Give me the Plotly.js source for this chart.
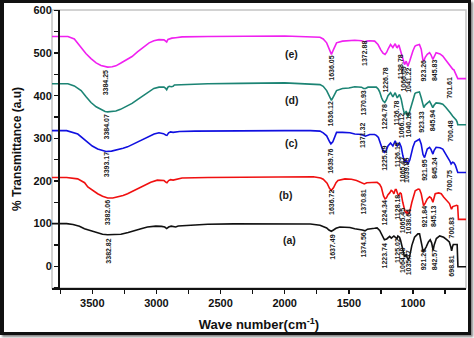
<!DOCTYPE html>
<html><head><meta charset="utf-8">
<script src="https://cdn.plot.ly/plotly-3.0.1.min.js"></script>
<style>
html,body{margin:0;padding:0;background:#fff;}
#wrap{position:relative;width:474px;height:338px;overflow:hidden;}
#chart{position:absolute;left:0;top:0;width:474px;height:338px;}
#frame{position:absolute;left:0;top:0;width:471px;height:335px;box-sizing:border-box;border:3px solid #111;border-left-width:4px;box-shadow:2px 2px 2px #888;pointer-events:none;}
</style></head>
<body><div id="wrap"><div id="chart"></div><div id="frame"></div></div>
<script>
// (a) black
const waveA = [3814,3700,3650,3600,3561,3500,3458,3420,3380,3320,3277,3220,3173,3120,3070,3005,2960,2935,2920,2905,2885,2870,2850,2830,2757,2600,2400,2000,1800,1725,1673,1655,1637,1620,1600,1570,1492,1454,1415,1395,1374,1355,1300,1280,1260,1240,1223,1205,1195,1182,1169,1149,1131,1125,1118,1105,1097,1079,1066,1060,1053,1045,1036,1027,1009,988,962,949,936,928,921,910,898,880,866,855,843,835,818,792,761,735,717,705,699,693,686,670,656,650,587];
const transA = [100,100,98,94,88,82,78,75,74,74.5,75,79,84,88,92,94,93.5,92,88.5,92,94,93,92,94.5,96,98.5,99.5,100,99,96,90,85,82,85,89,92,91,88,87,85,83,87,89,90,84,70,62,64,66,70,66,71,66,65,71,68,61,37,22,24,28,20,14,22,49,68,76,76,61,45,33,38,45,57,62,55,37,50,65,71,68,62,57,45,36,45,51,51,51,-1,-1];
// (b) red
const waveB = [3814,3700,3614,3560,3535,3500,3458,3420,3380,3340,3303,3260,3225,3170,3122,3080,3044,2993,2960,2941,2925,2918,2905,2890,2870,2847,2800,2600,2300,2000,1777,1720,1700,1670,1650,1636,1620,1600,1585,1530,1480,1440,1400,1380,1360,1320,1280,1260,1247,1230,1218,1208,1195,1182,1170,1160,1149,1138,1131,1120,1113,1100,1092,1080,1071,1062,1053,1045,1038,1027,1009,995,983,960,949,936,925,918,905,889,871,858,845,835,827,800,780,760,741,716,705,700,690,676,660,652,646,587];
const transB = [208,208,205,196,186,178,170,164,160,160,162,166,170,178,185,192,197,202,202,201,197,196,201,203,202,204,207,208,209,210,210,207,204,195,182,178,184,196,201,205,204,201,196,193,196,197,197,192,185,165,158,160,168,172,178,176,170,180,180,170,166,172,170,150,135,128,125,130,122,126,150,165,177,181,180,170,152,142,148,158,163,160,150,160,170,172,170,162,155,147,138,134,140,142,143,142,110,110];
// (c) blue
const waveC = [3814,3700,3613,3570,3535,3500,3458,3420,3393,3350,3303,3260,3225,3170,3122,3070,3018,2980,2945,2928,2918,2905,2890,2870,2850,2820,2700,2400,2000,1800,1725,1700,1673,1650,1640,1625,1610,1596,1550,1492,1454,1402,1371,1350,1337,1300,1286,1270,1260,1245,1234,1222,1210,1195,1175,1157,1139,1126,1123,1105,1092,1079,1066,1053,1040,1025,1010,1001,985,976,950,936,922,910,900,889,871,860,845,835,820,790,768,745,729,715,703,692,682,670,664,656,651,587];
const transC = [318,318,310,300,290,282,275,271,269,270,273,277,280,288,296,303,310,313,311,308,307,313,315,314,315,316,317,318,318,318,317,313,306,292,287,292,306,314,314,313,310,309,305,308,309,309,307,302,294,280,271,267,271,282,289,282,294,284,282,289,280,259,244,249,240,249,268,279,292,294,298,286,262,255,265,275,279,274,263,272,279,278,275,265,255,248,240,244,243,237,232,228,220,220];
// (d) teal
const waveD = [3814,3690,3640,3587,3550,3510,3470,3432,3400,3380,3340,3316,3280,3238,3190,3148,3100,3057,3020,2980,2941,2928,2920,2910,2900,2884,2870,2860,2800,2600,2344,2000,1725,1700,1673,1650,1636,1620,1596,1550,1500,1454,1402,1385,1370,1351,1286,1270,1260,1245,1234,1220,1208,1195,1175,1157,1139,1126,1123,1105,1092,1079,1066,1053,1040,1025,1010,1001,985,976,950,936,923,916,905,889,871,860,846,835,820,790,768,745,729,710,690,675,664,656,651,587];
const transD = [428,428,423,412,398,384,374,368,363,362,363,364,368,374,382,391,401,411,417,420,420,417,414,420,422,421,422,425,426,428,429,430,426,422,412,395,389,398,412,417,418,421,420,417,417,420,420,415,409,395,388,384,390,400,407,397,407,397,395,403,392,372,356,364,350,364,382,391,405,407,409,395,375,372,378,383,387,381,372,378,383,382,380,373,368,360,352,347,343,338,332,332];
// (e) magenta
const waveE = [3814,3690,3640,3587,3550,3510,3470,3432,3400,3380,3345,3316,3280,3238,3190,3148,3100,3057,3020,2980,2941,2928,2920,2910,2890,2880,2850,2800,2600,2344,2000,1725,1700,1673,1650,1636,1620,1596,1550,1518,1454,1402,1380,1372,1360,1337,1299,1273,1250,1234,1218,1205,1195,1175,1157,1139,1128,1123,1110,1095,1079,1066,1053,1040,1025,1010,1001,985,976,950,936,923,916,905,889,871,860,845,835,820,790,768,745,729,715,703,690,682,670,664,656,651,587];
const transE = [539,539,533,512,499,487,477,471,468,467,468,470,476,483,492,503,514,524,529,531.5,531,528,526,532,534,535,536,538,539,540,540,537,533,524,505,497,508,524,528,529,530,529,527,526,528,529,528,520,507,500,497,502,509,520,513,522,514,513,519,505,489,473,481,469,482,498,505,516,518,520,509,484,481,490,497,501,496,485,492,501,498,493,484,477,470,465,462,461,454,449,444,440,440];

const seriesNames = ['(a)','(b)','(c)','(d)','(e)'];
const seriesColors = ['#111111','#f01010','#1010e0','#1c8474','#f020f0'];
const xTickVals = [3500,3000,2500,2000,1500,1000];
const yTickVals = [0,100,200,300,400,500,600];

// peak labels: text, then anchor (wavenumber, offset value)
const peakText = [
 '3384.25','1636.05','1372.88','1226.78','1128.78','1066.09','1041.22','923.26','845.83','701.61',
 '3384.07','1636.12','1370.93','1224.78','1126.78','1066.12','1040.18','923.33','845.94','700.48',
 '3393.17','1639.76','1371.32','1225.29','1126.15','1065.47','1039.85','921.95','845.24','700.75',
 '3382.06','1636.72','1370.81','1224.34','1128.18','1065.45','1038.64','921.84','845.13','700.83',
 '3382.82','1637.49','1374.56','1223.74','1125.02','1064.48','1035.77','921.26','842.57','698.81'];
const peakX = [
 3390,1634,1374,1213,1102,1071,1032,920,837,712,
 3388,1640,1388,1226,1127,1084,1037,933,850,704,
 3393,1640,1388,1219,1115,1076,1045,907,829,712,
 3375,1634,1388,1226,1123,1081,1032,915,839,704,
 3375,1634,1388,1226,1120,1081,1032,915,837,702];
const peakY = [
 430,465,498,437,469,440,437,460,460,419,
 327,358,382,349,360,329,331,338,343,317.5,
 237,247,306,254,261,226,224,226,231,201,
 125,150,150,124,138,107,105,117,117,91,
 35,45,49,23,37,14,9,16,16,2];
const tagX = [1959,1993,1951,1951,1951];
const tagY = [61,167,288,390,498];

const waves=[waveA,waveB,waveC,waveD,waveE];
const trans=[transA,transB,transC,transD,transE];
const traces = waves.map((w,i)=>({x:w,y:trans[i],type:'scatter',mode:'lines',name:seriesNames[i],
  line:{color:seriesColors[i],width:1.6},hoverinfo:'skip'}));

const annFont={family:'Liberation Sans, Arial, sans-serif',size:7,color:'#1a1a1a',weight:'bold'};
const annotations=[];
peakText.forEach((t,i)=>annotations.push({x:peakX[i],y:peakY[i],xref:'x',yref:'y',text:t,showarrow:false,textangle:-90,font:annFont,xanchor:'center',yanchor:'middle'}));
seriesNames.forEach((t,i)=>annotations.push({x:tagX[i],y:tagY[i],xref:'x',yref:'y',text:t,showarrow:false,font:{family:'Liberation Sans, Arial, sans-serif',size:10.5,color:'#1a1a1a',weight:'bold'}}));

const tickFont={family:'Liberation Sans, Arial, sans-serif',size:11,color:'#111',weight:'bold'};
const layout={
  width:474,height:338,
  margin:{l:52,r:8,t:10,b:50,pad:0},
  paper_bgcolor:'#fff',plot_bgcolor:'#fff',
  showlegend:false,hovermode:false,
  xaxis:{range:[3814,587],autorange:false,tickvals:xTickVals,ticks:'outside',ticklen:4,tickwidth:1.5,tickcolor:'#111',
    showline:true,linecolor:'#111',linewidth:2,showgrid:false,zeroline:false,tickfont:tickFont,
    minor:{dtick:250,tick0:0,ticks:'outside',ticklen:4,tickwidth:1.3,tickcolor:'#111',showgrid:false},
    title:{text:'Wave number(cm<sup>-1</sup>)',font:{family:'Liberation Sans, Arial, sans-serif',size:13,color:'#111',weight:'bold'},standoff:12}},
  yaxis:{range:[-51,601],autorange:false,tickvals:yTickVals,ticks:'outside',ticklen:4,tickwidth:1.5,tickcolor:'#111',
    anchor:'free',position:0.0169,
    showline:true,linecolor:'#111',linewidth:2,showgrid:false,zeroline:false,tickfont:tickFont,
    minor:{dtick:50,tick0:0,ticks:'outside',ticklen:4,tickwidth:1.3,tickcolor:'#111',showgrid:false},
    title:{text:'% Transmittance (a.u)',font:{family:'Liberation Sans, Arial, sans-serif',size:12,color:'#111',weight:'bold'},standoff:8}},
  shapes:[{type:'rect',xref:'paper',yref:'paper',x0:0,x1:1,y0:0,y1:1,line:{color:'#c4c4c4',width:1.5},layer:'below'}],
  annotations:annotations
};
Plotly.newPlot('chart',traces,layout,{staticPlot:true,displayModeBar:false});
</script></body></html>
